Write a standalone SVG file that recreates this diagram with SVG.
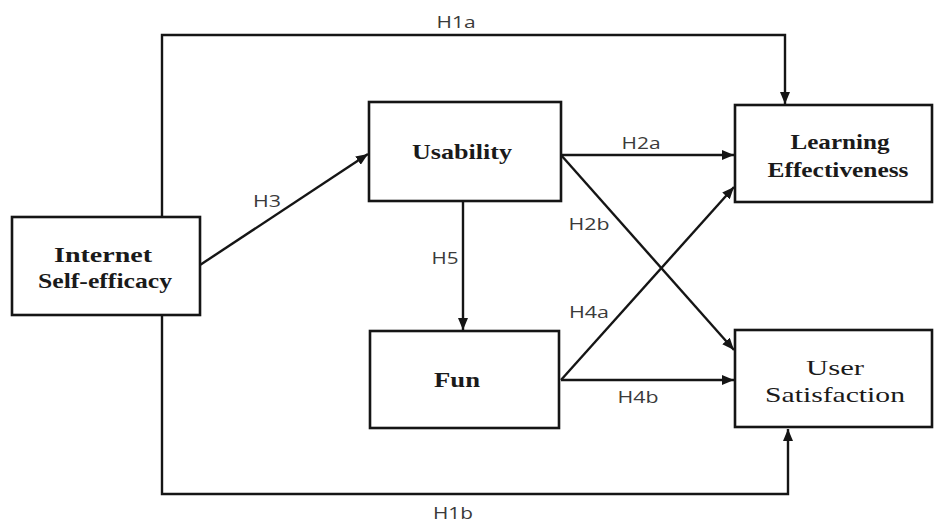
<svg xmlns="http://www.w3.org/2000/svg" width="934" height="524" viewBox="0 0 934 524">
<defs>
<style>
.box{fill:#fff;stroke:#151515;stroke-width:2.6}
.ln{fill:none;stroke:#151515;stroke-width:2.4}
.nt{font-family:"Liberation Serif","Times New Roman",serif;font-size:22px;fill:#1a1a1a;text-anchor:middle}
.b{font-weight:bold}
.lb{font-family:"Open Sans","DejaVu Sans",sans-serif;font-size:17px;fill:#3a3a3a;text-anchor:middle}
</style>
<marker id="ah" viewBox="0 0 12 10" refX="12" refY="5" markerWidth="12" markerHeight="10" markerUnits="userSpaceOnUse" orient="auto">
<path d="M0,0 L12,5 L0,10 z" fill="#151515"/>
</marker>
</defs>
<rect width="934" height="524" fill="#fff"/>
<g id="connectors">
<path class="ln" d="M162,217 V35 H785 V104" marker-end="url(#ah)"/>
<path class="ln" d="M162,315 V494 H788 V429" marker-end="url(#ah)"/>
<path class="ln" d="M200,265 L368,154" marker-end="url(#ah)"/>
<path class="ln" d="M561,155 H734" marker-end="url(#ah)"/>
<path class="ln" d="M561,155 L734,350" marker-end="url(#ah)"/>
<path class="ln" d="M561,380 L734,187" marker-end="url(#ah)"/>
<path class="ln" d="M561,380 H734" marker-end="url(#ah)"/>
<path class="ln" d="M463,202 V330" marker-end="url(#ah)"/>
<text class="lb" x="456" y="28" textLength="39" lengthAdjust="spacingAndGlyphs">H1a</text>
<text class="lb" x="453" y="519" textLength="40" lengthAdjust="spacingAndGlyphs">H1b</text>
<text class="lb" x="267" y="207" textLength="28" lengthAdjust="spacingAndGlyphs">H3</text>
<text class="lb" x="641" y="149" textLength="39" lengthAdjust="spacingAndGlyphs">H2a</text>
<text class="lb" x="589" y="230" textLength="41" lengthAdjust="spacingAndGlyphs">H2b</text>
<text class="lb" x="589" y="318" textLength="40" lengthAdjust="spacingAndGlyphs">H4a</text>
<text class="lb" x="638" y="403" textLength="41" lengthAdjust="spacingAndGlyphs">H4b</text>
<text class="lb" x="445" y="264" textLength="27" lengthAdjust="spacingAndGlyphs">H5</text>
</g>
<g id="internet-self-efficacy">
<rect class="box" x="12" y="217" width="188" height="98"/>
<text class="nt b" x="103" y="262" textLength="98" lengthAdjust="spacingAndGlyphs">Internet</text>
<text class="nt b" x="105" y="288" textLength="134" lengthAdjust="spacingAndGlyphs">Self-efficacy</text>
</g>
<g id="usability">
<rect class="box" x="369" y="102" width="192" height="99"/>
<text class="nt b" x="462" y="159" textLength="100" lengthAdjust="spacingAndGlyphs">Usability</text>
</g>
<g id="fun">
<rect class="box" x="370" y="331" width="189" height="97"/>
<text class="nt b" x="457" y="387" textLength="46" lengthAdjust="spacingAndGlyphs">Fun</text>
</g>
<g id="learning-effectiveness">
<rect class="box" x="735" y="105" width="197" height="97"/>
<text class="nt b" x="840" y="149" textLength="99" lengthAdjust="spacingAndGlyphs">Learning</text>
<text class="nt b" x="838" y="177" textLength="141" lengthAdjust="spacingAndGlyphs">Effectiveness</text>
</g>
<g id="user-satisfaction">
<rect class="box" x="735" y="330" width="197" height="97"/>
<text class="nt" x="835" y="375" textLength="58" lengthAdjust="spacingAndGlyphs">User</text>
<text class="nt" x="835" y="402" textLength="140" lengthAdjust="spacingAndGlyphs">Satisfaction</text>
</g>
</svg>
